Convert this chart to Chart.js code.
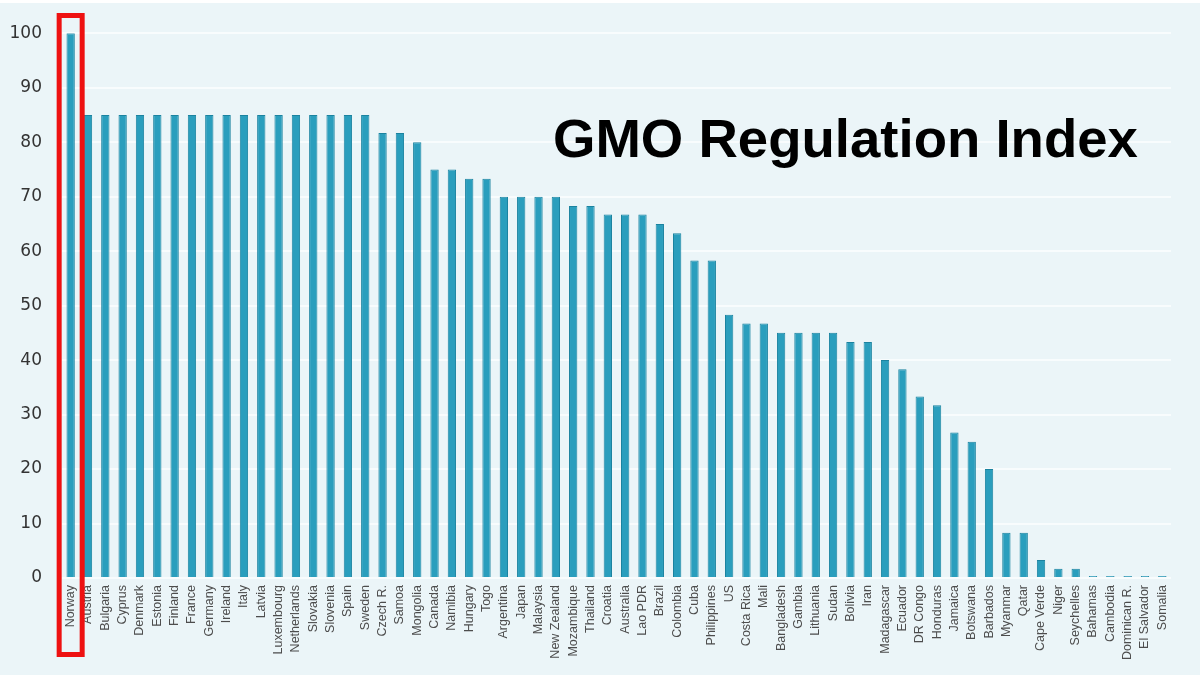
<!DOCTYPE html>
<html>
<head>
<meta charset="utf-8">
<script src="https://cdn.jsdelivr.net/npm/chart.js@4/dist/chart.umd.min.js"></script>
<style>
html,body{margin:0;padding:0;background:#ffffff;}
#wrap{position:absolute;left:0;top:3px;width:1200px;height:672px;background:#ebf5f8;}
canvas{display:block;}
</style>
</head>
<body>
<div id="wrap"><canvas id="c" width="1200" height="672"></canvas></div>
<script>
const countries = ["Norway","Austria","Bulgaria","Cyprus","Denmark","Estonia","Finland","France","Germany","Ireland","Italy","Latvia","Luxembourg","Netherlands","Slovakia","Slovenia","Spain","Sweden","Czech R.","Samoa","Mongolia","Canada","Namibia","Hungary","Togo","Argentina","Japan","Malaysia","New Zealand","Mozambique","Thailand","Croatia","Australia","Lao PDR","Brazil","Colombia","Cuba","Philippines","US","Costa Rica","Mali","Bangladesh","Gambia","Lithuania","Sudan","Bolivia","Iran","Madagascar","Ecuador","DR Congo","Honduras","Jamaica","Botswana","Barbados","Myanmar","Qatar","Cape Verde","Niger","Seychelles","Bahamas","Cambodia","Dominican R.","El Salvador","Somalia"];
const indexValues = [100,85,85,85,85,85,85,85,85,85,85,85,85,85,85,85,85,85,81.7,81.7,80,75,75,73.3,73.3,70,70,70,70,68.3,68.3,66.7,66.7,66.7,65,63.3,58.3,58.3,48.3,46.7,46.7,45,45,45,45,43.3,43.3,40,38.3,33.3,31.7,26.7,25,20,8.3,8.3,3.3,1.7,1.7,0,0,0,0,0];
const yTicks = [0,10,20,30,40,50,60,70,80,90,100];
const chartTitle = "GMO Regulation Index";
const highlighted = "Norway";

const overlay = {
  id: 'overlay',
  afterDraw(chart) {
    const ctx = chart.ctx;
    const xs = chart.scales.x;
    ctx.save();
    ctx.fillStyle = '#000000';
    ctx.textBaseline = 'alphabetic';
    ctx.textAlign = 'left';
    let size = 49;
    ctx.font = 'bold ' + size + 'px "Liberation Sans", Arial, sans-serif';
    const w = ctx.measureText(chartTitle).width;
    size = size * 585 / w;
    ctx.font = 'bold ' + size.toFixed(2) + 'px "Liberation Sans", Arial, sans-serif';
    ctx.fillText(chartTitle, 553, 154);
    const idx = countries.indexOf(highlighted);
    const cx = xs.getPixelForValue(idx);
    ctx.strokeStyle = '#ee1111';
    ctx.lineWidth = 5;
    ctx.strokeRect(cx - 11.5, 12.5, 23, 639);
    ctx.restore();
  }
};

new Chart(document.getElementById('c'), {
  type: 'bar',
  data: {
    labels: countries,
    datasets: [{
      data: indexValues,
      backgroundColor: '#2a9ebd',
      borderColor: '#1b83a0',
      borderWidth: 1,
      borderSkipped: 'bottom',
      minBarLength: 2,
      barPercentage: 0.48,
      categoryPercentage: 1.0
    }]
  },
  options: {
    responsive: false,
    animation: false,
    devicePixelRatio: 1,
    layout: { padding: { left: 0, right: 29, top: 27.5, bottom: 0 } },
    plugins: { legend: { display: false }, tooltip: { enabled: false }, title: { display: false } },
    scales: {
      x: {
        grid: { display: false, drawTicks: false },
        border: { display: false },
        ticks: {
          autoSkip: false,
          minRotation: 90,
          maxRotation: 90,
          padding: 7,
          color: '#4d4d4d',
          font: { family: '"Liberation Sans", Arial, sans-serif', size: 12.5 }
        },
        afterFit(s) { s.height = 97; }
      },
      y: {
        min: 0,
        max: 100,
        afterBuildTicks(s) { s.ticks = yTicks.map(v => ({ value: v })); },
        grid: { color: '#f8fcfd', lineWidth: 2, drawTicks: false },
        border: { display: false },
        ticks: {
          padding: 20,
          color: '#333333',
          font: { family: '"DejaVu Sans", sans-serif', size: 17 }
        },
        afterFit(s) { s.width = 62; }
      }
    }
  },
  plugins: [overlay]
});
</script>
</body>
</html>
